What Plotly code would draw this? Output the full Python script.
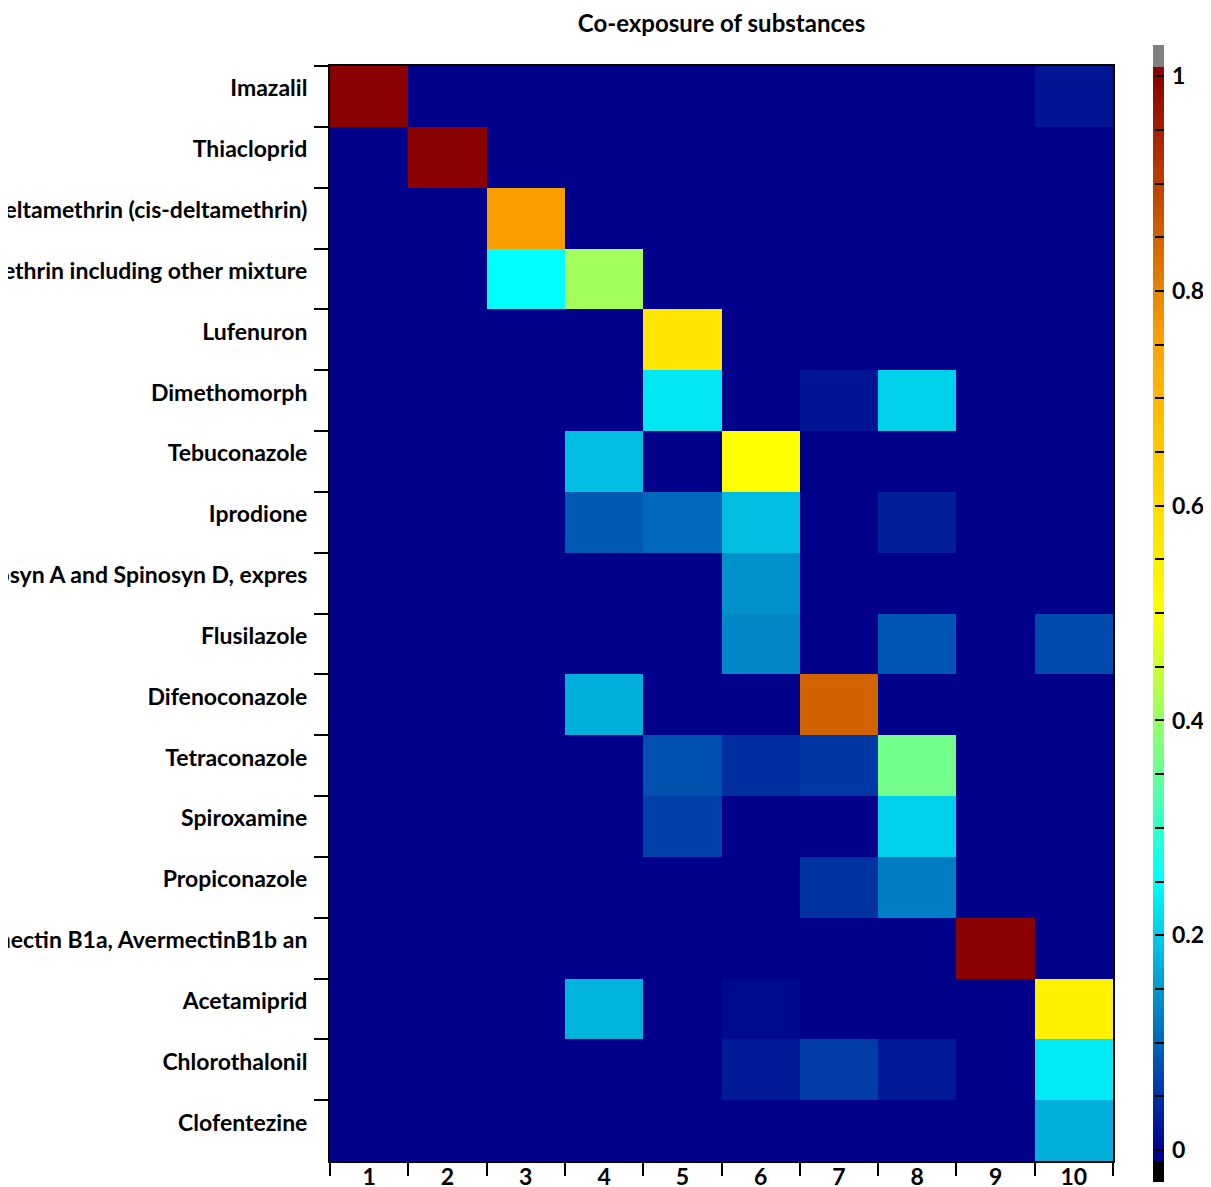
import plotly.graph_objects as go

# substances (rows, top to bottom) and exposure groups (columns)
substances = [
    "Imazalil",
    "Thiacloprid",
    "Deltamethrin (cis-deltamethrin)",
    "Cypermethrin including other mixture",
    "Lufenuron",
    "Dimethomorph",
    "Tebuconazole",
    "Iprodione",
    "Spinosad (sum of Spinosyn A and Spinosyn D, expres",
    "Flusilazole",
    "Difenoconazole",
    "Tetraconazole",
    "Spiroxamine",
    "Propiconazole",
    "Abamectin (sum of Avermectin B1a, AvermectinB1b an",
    "Acetamiprid",
    "Chlorothalonil",
    "Clofentezine",
]
groups = ["1", "2", "3", "4", "5", "6", "7", "8", "9", "10"]

# co-exposure values, one row per substance
values = [
    [1.00, 0, 0, 0, 0, 0, 0, 0, 0, 0.02],
    [0, 1.00, 0, 0, 0, 0, 0, 0, 0, 0],
    [0, 0, 0.76, 0, 0, 0, 0, 0, 0, 0],
    [0, 0, 0.25, 0.41, 0, 0, 0, 0, 0, 0],
    [0, 0, 0, 0, 0.57, 0, 0, 0, 0, 0],
    [0, 0, 0, 0, 0.225, 0, 0.02, 0.205, 0, 0],
    [0, 0, 0, 0.186, 0, 0.50, 0, 0, 0, 0],
    [0, 0, 0, 0.088, 0.103, 0.186, 0, 0.03, 0, 0],
    [0, 0, 0, 0, 0, 0.142, 0, 0, 0, 0],
    [0, 0, 0, 0, 0, 0.132, 0, 0.083, 0, 0.074],
    [0, 0, 0, 0.172, 0, 0, 0.85, 0, 0, 0],
    [0, 0, 0, 0, 0.078, 0.044, 0.054, 0.363, 0, 0],
    [0, 0, 0, 0, 0.064, 0, 0, 0.205, 0, 0],
    [0, 0, 0, 0, 0, 0, 0.049, 0.122, 0, 0],
    [0, 0, 0, 0, 0, 0, 0, 0, 1.00, 0],
    [0, 0, 0, 0.176, 0, 0.01, 0, 0, 0, 0.54],
    [0, 0, 0, 0, 0, 0.025, 0.059, 0.025, 0, 0.23],
    [0, 0, 0, 0, 0, 0, 0, 0, 0, 0.172],
]

# colour range incl. below/above range bands (black / gray)
zlo, zhi = -0.0298, 1.029
under, over = -0.0102, 1.0084
base = [(0.0, "#00008B"), (0.25, "#00FFFF"), (0.5, "#FFFF00"),
        (0.75, "#FFA500"), (1.0, "#8B0000")]

def pos(v):
    return (v - zlo) / (zhi - zlo)

cscale = [[0.0, "black"], [pos(under), "black"], [pos(under), base[0][1]]]
cscale += [[pos(v), c] for v, c in base]
cscale += [[pos(over), base[-1][1]], [pos(over), "gray"], [1.0, "gray"]]

font = dict(family="Lato", size=23, color="black", weight="bold")

cb_vals = [i * 0.05 for i in range(21)]
cb_text = [("\u2009%g" % round(v, 2)) if i % 4 == 0 else "" for i, v in enumerate(cb_vals)]

fig = go.Figure(go.Heatmap(
    z=values, x=groups, y=substances,
    colorscale=cscale, zmin=zlo, zmax=zhi,
    colorbar=dict(
        thickness=11, lenmode="pixels", len=1137, y=0.5, yanchor="middle",
        x=1.051, xanchor="left", xpad=0, ypad=0, outlinewidth=0,
        tickvals=cb_vals, ticktext=cb_text, ticks="inside", ticklen=9,
        tickwidth=2, tickcolor="black", tickfont=font,
    ),
))

# page has an 8px body margin, so the figure is 8px smaller
fig.update_layout(
    width=1203, height=1179,
    margin=dict(l=322, r=98, t=58, b=26, autoexpand=False),
    paper_bgcolor="white", plot_bgcolor="white",
    title=dict(text="Co-exposure of substances", x=0.5, xref="paper",
               y=1 - 16 / 1179, yanchor="middle",
               font=dict(family="Lato", size=24, color="black", weight="bold")),
    font=font,
)
fig.update_xaxes(
    type="category", tickson="boundaries", ticks="outside", ticklen=13,
    tickwidth=2, tickcolor="black", showline=True, linewidth=2,
    linecolor="black", mirror=True, tickfont=font, ticklabelstandoff=-6,
    showgrid=False, zeroline=False, automargin=False,
)
fig.update_yaxes(
    type="category", autorange="reversed", tickson="boundaries",
    ticks="outside", ticklen=14, tickwidth=2, tickcolor="black",
    showline=True, linewidth=2, linecolor="black", mirror=True,
    tickfont=font, ticklabelshift=8, ticklabelstandoff=16,
    showgrid=False, zeroline=False, automargin=False,
)

fig.write_html("out.html")
